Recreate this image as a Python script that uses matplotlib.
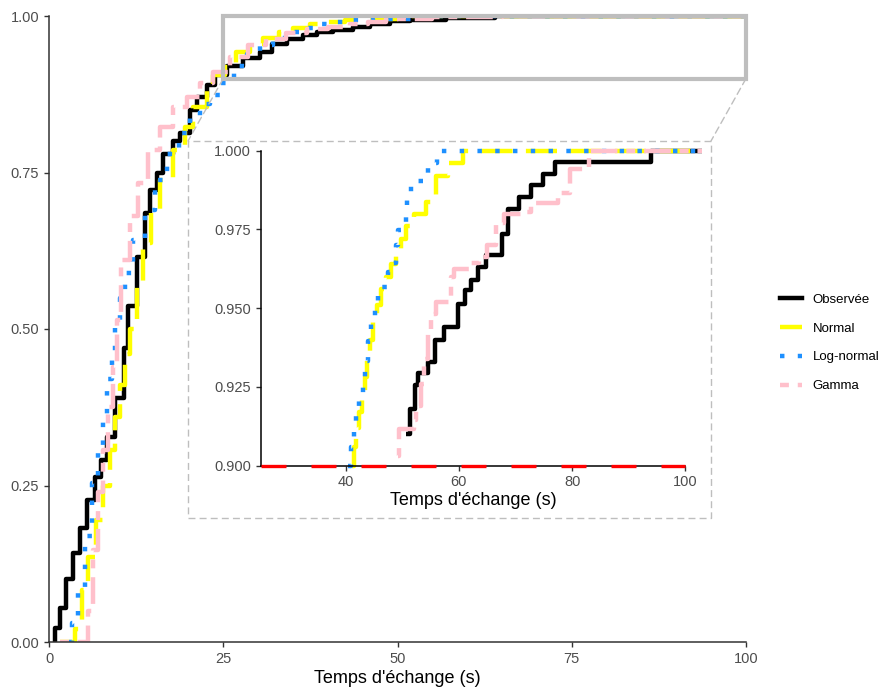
import numpy as np
import matplotlib.pyplot as plt
from matplotlib.lines import Line2D
from matplotlib.patches import Rectangle, ConnectionPatch

plt.rcParams['font.family'] = ['Liberation Sans', 'DejaVu Sans']

# ECDF steps (x = jump position, y = level after jump)
obs_x = [0.86, 1.6, 2.5, 3.5, 4.4, 5.5, 6.6, 7.4, 8.3, 9.5, 10.8, 11.3, 12.6, 13.8, 14.5,
         15.5, 16.4, 17.8, 18.8, 20.2, 21.2, 22.6, 23.8, 25.5, 27.9, 30.3, 32.0, 34.1, 36.5,
         38.5, 40.8, 43.6, 46.0, 48.9, 51.8, 57.0, 64.0]
obs_y = [0.022, 0.054, 0.10, 0.142, 0.182, 0.227, 0.264, 0.29, 0.328, 0.39, 0.47, 0.536,
         0.615, 0.685, 0.722, 0.75, 0.78, 0.80, 0.813, 0.85, 0.87, 0.89, 0.905, 0.92, 0.933,
         0.943, 0.955, 0.964, 0.969, 0.974, 0.978, 0.983, 0.987, 0.992, 0.994, 0.9975, 1.0]

norm_x = [1.6, 3.7, 4.7, 5.6, 6.8, 7.8, 8.75, 9.5, 10.2, 10.9, 11.6, 12.6, 13.5, 14.7, 15.9,
          17.8, 19.5, 20.7, 22.6, 23.5, 25.2, 26.9, 28.8, 30.7, 33.0, 35.0, 37.5, 39.8, 42.5,
          45.0, 50.0]
norm_y = [0.0, 0.02, 0.083, 0.136, 0.195, 0.25, 0.307, 0.36, 0.41, 0.46, 0.50, 0.573, 0.637,
          0.69, 0.738, 0.786, 0.823, 0.855, 0.89, 0.906, 0.925, 0.943, 0.955, 0.965, 0.974,
          0.981, 0.987, 0.991, 0.993, 0.995, 1.0]

lnorm_x = [2.8, 3.3, 4.2, 5.2, 6.1, 7.0, 7.8, 8.3, 9.0, 9.5, 10.2, 10.9, 12.1, 13.8, 15.2,
           16.9, 18.6, 20.2, 21.7, 23.1, 24.5, 26.5, 28.4, 30.3, 32.2, 34.3, 36.5, 38.6, 40.8,
           43.5, 46.5, 52.0]
lnorm_y = [0.0, 0.03, 0.086, 0.17, 0.254, 0.31, 0.365, 0.42, 0.45, 0.51, 0.55, 0.59, 0.642,
           0.69, 0.738, 0.78, 0.813, 0.84, 0.86, 0.874, 0.893, 0.92, 0.94, 0.953, 0.965, 0.974,
           0.981, 0.987, 0.991, 0.993, 0.995, 1.0]

gam_x = [1.6, 5.6, 6.3, 7.0, 7.8, 8.5, 9.2, 9.7, 10.4, 11.6, 12.8, 14.2, 15.9, 17.8, 19.8,
         21.7, 23.5, 26.0, 28.5, 31.2, 34.0, 37.0, 40.0, 43.2, 45.8, 48.4, 55.0, 65.0, 75.0]
gam_y = [0.0, 0.05, 0.147, 0.24, 0.307, 0.376, 0.44, 0.514, 0.61, 0.68, 0.733, 0.786, 0.823,
         0.855, 0.871, 0.893, 0.911, 0.935, 0.953, 0.964, 0.973, 0.979, 0.983, 0.987, 0.991,
         0.995, 0.998, 1.0, 1.0]

# steps
obs_in_x = [50.7, 51.3, 52.2, 52.7, 54.5, 55.7, 57.4, 59.9, 61.0, 62.2, 63.3, 64.8, 67.7,
            68.6, 70.6, 72.7, 74.8, 77.0, 94.0]
obs_in_y = [0.910, 0.918, 0.9256, 0.9293, 0.933, 0.940, 0.944, 0.9514, 0.9556, 0.9588, 0.963,
            0.9667, 0.9736, 0.9815, 0.9852, 0.9889, 0.9926, 0.9963, 1.0]

norm_in_x = [41.1, 41.4, 41.8, 42.3, 42.9, 43.4, 43.8, 44.3, 44.8, 45.5, 46.3, 47.1, 48.0,
             48.9, 49.8, 50.7, 52.0, 54.2, 56.0, 58.0, 60.7]
norm_in_y = [0.900, 0.906, 0.912, 0.917, 0.922, 0.928, 0.934, 0.940, 0.946, 0.951, 0.956,
             0.960, 0.964, 0.968, 0.972, 0.976, 0.980, 0.9836, 0.992, 0.996, 1.0]

lnorm_in_x = [40.4, 41.0, 41.4, 41.9, 42.3, 43.0, 43.4, 44.0, 44.5, 45.2, 45.8, 47.5, 48.3,
              48.9, 49.2, 50.6, 50.9, 51.5, 54.5, 56.2]
lnorm_in_y = [0.900, 0.906, 0.9116, 0.917, 0.9226, 0.928, 0.9333, 0.9395, 0.945, 0.951,
              0.9567, 0.9614, 0.9644, 0.970, 0.9749, 0.9808, 0.9844, 0.9903, 0.996, 1.0]

gam_in_x = [49.2, 49.5, 52.0, 52.5, 53.3, 53.9, 54.5, 55.1, 56.0, 58.6, 59.2, 62.0, 63.6,
            65.0, 66.5, 68.0, 71.2, 72.7, 77.5, 79.6, 83.0]
gam_in_y = [0.903, 0.9118, 0.9145, 0.919, 0.926, 0.934, 0.942, 0.948, 0.952, 0.960, 0.9625,
            0.9642, 0.9662, 0.970, 0.977, 0.980, 0.9805, 0.9833, 0.9865, 0.9942, 1.0]

labels = ['Observée', 'Normal', 'Log-normal', 'Gamma']
colors = ['black', '#FFFF00', '#1E90FF', '#FFC0CB']
lw = 3.2
styles = ['-', (0, (7, 3)), (0, (1, 3)), (0, (2, 2, 6, 2))]

W, H = 885, 688
fig = plt.figure(figsize=(W / 100, H / 100), dpi=100)


def step(ax, x, y, xend, i, clip=True):
    xs = np.r_[x[0], x, xend]
    ys = np.r_[0 if clip else y[0], y, y[-1]]
    ax.plot(xs, ys, drawstyle='steps-post', color=colors[i], lw=lw, ls=styles[i],
            dash_capstyle='butt', solid_capstyle='butt', clip_on=clip)


def style_axes(ax, spine_col):
    for s in ['top', 'right']:
        ax.spines[s].set_visible(False)
    for s in ['left', 'bottom']:
        ax.spines[s].set_color(spine_col)
        ax.spines[s].set_linewidth(1.1)
    ax.tick_params(colors='#333333', labelcolor='#4d4d4d', labelsize=10.5, length=3.5, width=1)
    ax.set_facecolor('white')


# main panel
ax = fig.add_axes([49 / W, 1 - 642 / H, (746 - 49) / W, (642 - 16) / H])
step(ax, obs_x, obs_y, 100, 0)
step(ax, norm_x, norm_y, 100, 1)
step(ax, lnorm_x, lnorm_y, 100, 2)
step(ax, gam_x, gam_y, 100, 3)
ax.set_xlim(0, 100)
ax.set_ylim(0, 1)
ax.set_xticks([0, 25, 50, 75, 100])
ax.set_yticks([0, 0.25, 0.5, 0.75, 1.0])
ax.set_yticklabels(['0.00', '0.25', '0.50', '0.75', '1.00'])
style_axes(ax, '#333333')
ax.set_xlabel("Temps d'échange (s)", fontsize=13, labelpad=3)
ax.add_patch(Rectangle((25, 0.9), 75, 0.1, fill=False, ec='#BEBEBE', lw=3, clip_on=False, zorder=5))

# inset frame and connectors
fig.patches.append(Rectangle((188 / W, 1 - 518 / H), (711 - 188) / W, (518 - 141) / H,
                             transform=fig.transFigure, fc='white', ec='#BEBEBE', lw=1,
                             ls=(0, (5, 3)), zorder=1))
for xa, xb in [(25, 188), (100, 711)]:
    con = ConnectionPatch(xyA=(xa, 0.9), coordsA=ax.transData, xyB=(xb / W, 1 - 141 / H),
                          coordsB=fig.transFigure, color='#BEBEBE', lw=1, ls=(0, (5, 3)))
    fig.add_artist(con)

# inset panel
axi = fig.add_axes([260.7 / W, 1 - 465.7 / H, (685.3 - 260.7) / W, (465.7 - 150.5) / H], zorder=3)
axi.axhline(0.9, color='red', lw=2.4, ls=(0, (7.5, 7.5)), zorder=4, clip_on=False,
            dash_capstyle='butt')
step(axi, obs_in_x, obs_in_y, 103, 0, clip=False)
step(axi, norm_in_x, norm_in_y, 103, 1, clip=False)
step(axi, lnorm_in_x, lnorm_in_y, 103, 2, clip=False)
step(axi, gam_in_x, gam_in_y, 103, 3, clip=False)
axi.set_xlim(25, 100)
axi.set_ylim(0.9, 1.0)
axi.set_xticks([40, 60, 80, 100])
axi.set_yticks([0.9, 0.925, 0.95, 0.975, 1.0])
axi.set_yticklabels(['0.900', '0.925', '0.950', '0.975', '1.000'])
style_axes(axi, 'black')
axi.set_xlabel("Temps d'échange (s)", fontsize=13, labelpad=2)

# legend
handles = [Line2D([], [], color=colors[i], lw=lw, ls=styles[i], dash_capstyle='butt')
           for i in range(4)]
fig.legend(handles, labels, loc='center left', bbox_to_anchor=(768 / W, 1 - 343 / H),
           frameon=False, fontsize=9.5, handlelength=1.7, handletextpad=0.8, labelspacing=1.25)

fig.savefig('out.png', dpi=100)
